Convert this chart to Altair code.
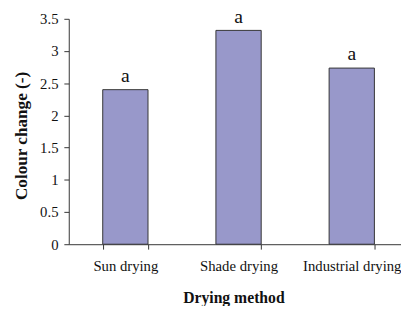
import altair as alt
import pandas as pd

methods = ["Sun drying", "Shade drying", "Industrial drying"]
colour_change = [2.40, 3.32, 2.735]
letters = ["a", "a", "a"]
y_ticks = [0, 0.5, 1, 1.5, 2, 2.5, 3, 3.5]

df = pd.DataFrame({"method": methods, "value": colour_change, "letter": letters})

FONT = "Liberation Serif"

x = alt.X(
    "method:N",
    sort=methods,
    scale=alt.Scale(range=[0, 346.5], paddingInner=0.6, paddingOuter=0.3),
    axis=alt.Axis(
        title="Drying method",
        labelAngle=0,
        labelFont=FONT,
        labelFontSize=15,
        labelColor="#111",
        labelPadding=10,
        labelOverlap=False,
        tickBand="extent",
        tickSize=5,
        tickColor="#333",
        domainColor="#333",
        titleFont=FONT,
        titleFontSize=16,
        titleFontWeight="bold",
        titleColor="#111",
        titleX=168,
        titleY=54,
        titleBaseline="middle",
        titleAnchor="start",
        titleAlign="center",
        grid=False,
    ),
)

y = alt.Y(
    "value:Q",
    scale=alt.Scale(domain=[0, 3.5], nice=False),
    axis=alt.Axis(
        title="Colour change (-)",
        values=y_ticks,
        format="~g",
        labelOverlap=False,
        labelFont=FONT,
        labelFontSize=15,
        labelColor="#111",
        labelPadding=6,
        tickSize=5,
        tickColor="#333",
        domainColor="#333",
        titleFont=FONT,
        titleFontSize=17.5,
        titleFontWeight="bold",
        titleColor="#111",
        titleX=-48,
        titleY=119,
        titleBaseline="middle",
        titleAlign="center",
        grid=False,
    ),
)

bars = alt.Chart(df).mark_bar(
    color="#9898CA", stroke="#333", strokeWidth=1
).encode(x=x, y=y)

labels = alt.Chart(df).mark_text(
    font=FONT, fontSize=20, dy=-8, baseline="alphabetic", color="#111"
).encode(x=x, y=y, text="letter:N")

chart = (bars + labels).properties(
    width=339,
    height=230,
    autosize=alt.AutoSizeParams(type="none"),
    padding={"left": 62, "top": 8, "right": 0, "bottom": 60},
).configure_view(stroke=None)

chart.save("out.html", embed_options={"renderer": "svg", "actions": False})
